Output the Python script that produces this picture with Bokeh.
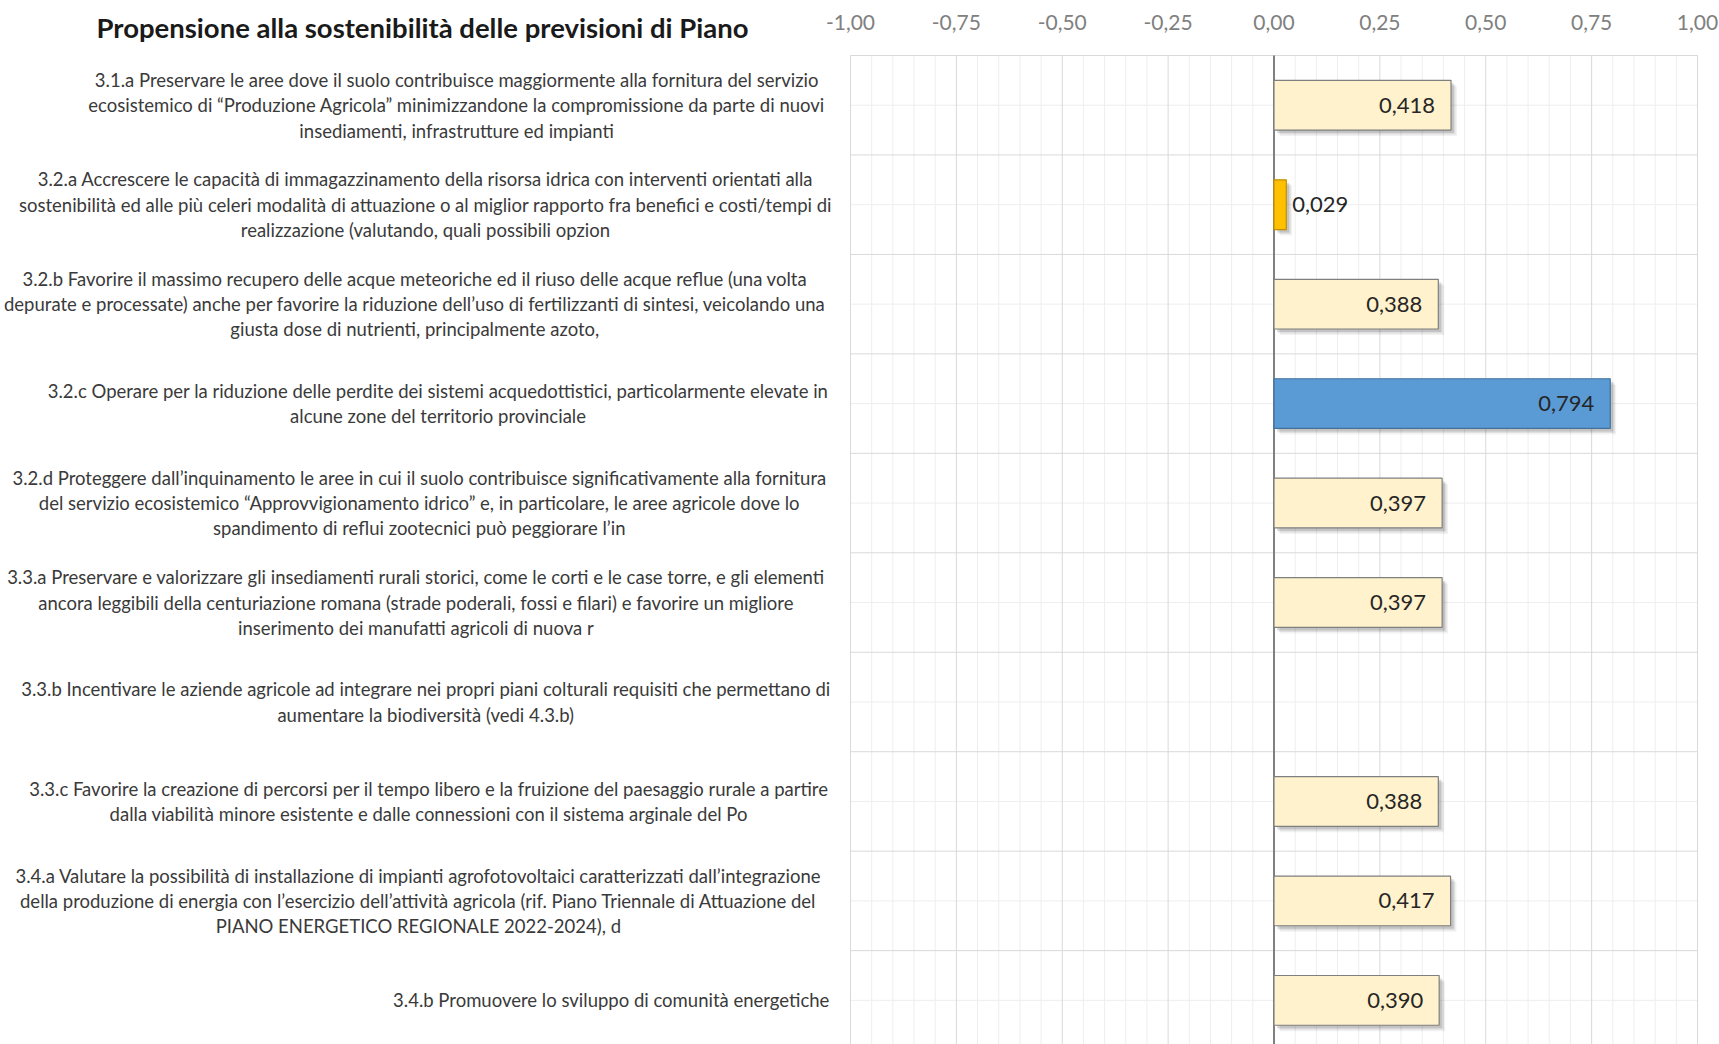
from bokeh.plotting import figure
from bokeh.models import ColumnDataSource, Range1d
from bokeh.embed import file_html
from bokeh.resources import INLINE
from bokeh.core.properties import value

# ---------------- data ----------------
chart_title = "Propensione alla sostenibilità delle previsioni di Piano"

categories = [
    "3.1.a Preservare le aree dove il suolo contribuisce maggiormente alla fornitura del servizio\n"
    "ecosistemico di “Produzione Agricola” minimizzandone la compromissione da parte di nuovi\n"
    "insediamenti, infrastrutture ed impianti",
    "3.2.a Accrescere le capacità di immagazzinamento della risorsa idrica con interventi orientati alla\n"
    "sostenibilità ed alle più celeri modalità di attuazione o al miglior rapporto fra benefici e costi/tempi di\n"
    "realizzazione (valutando, quali possibili opzion",
    "3.2.b Favorire il massimo recupero delle acque meteoriche ed il riuso delle acque reflue (una volta\n"
    "depurate e processate) anche per favorire la riduzione dell’uso di fertilizzanti di sintesi, veicolando una\n"
    "giusta dose di nutrienti, principalmente azoto,",
    "3.2.c Operare per la riduzione delle perdite dei sistemi acquedottistici, particolarmente elevate in\n"
    "alcune zone del territorio provinciale",
    "3.2.d Proteggere dall’inquinamento le aree in cui il suolo contribuisce significativamente alla fornitura\n"
    "del servizio ecosistemico “Approvvigionamento idrico” e, in particolare, le aree agricole dove lo\n"
    "spandimento di reflui zootecnici può peggiorare l’in",
    "3.3.a Preservare e valorizzare gli insediamenti rurali storici, come le corti e le case torre, e gli elementi\n"
    "ancora leggibili della centuriazione romana (strade poderali, fossi e filari) e favorire un migliore\n"
    "inserimento dei manufatti agricoli di nuova r",
    "3.3.b Incentivare le aziende agricole ad integrare nei propri piani colturali requisiti che permettano di\n"
    "aumentare la biodiversità (vedi 4.3.b)",
    "3.3.c Favorire la creazione di percorsi per il tempo libero e la fruizione del paesaggio rurale a partire\n"
    "dalla viabilità minore esistente e dalle connessioni con il sistema arginale del Po",
    "3.4.a Valutare la possibilità di installazione di impianti agrofotovoltaici caratterizzati dall’integrazione\n"
    "della produzione di energia con l’esercizio dell’attività agricola (rif. Piano Triennale di Attuazione del\n"
    "PIANO ENERGETICO REGIONALE 2022-2024), d",
    "3.4.b Promuovere lo sviluppo di comunità energetiche",
]

values = [0.418, 0.029, 0.388, 0.794, 0.397, 0.397, None, 0.388, 0.417, 0.390]

tick_values = [-1.0, -0.75, -0.5, -0.25, 0.0, 0.25, 0.5, 0.75, 1.0]
tick_labels = ["-1,00", "-0,75", "-0,50", "-0,25", "0,00", "0,25", "0,50", "0,75", "1,00"]

# ---------------- layout / style ----------------
FONT = "Lato"
W, H = 1719, 1044
PLOT_L, PLOT_R, PLOT_T = 850, 1697, 55      # pixel box of the value area
BAND_PX = 99.46                              # pixel height of one category band
px_x = (PLOT_R - PLOT_L) / 2.0
n = len(categories)

def X(px):   # pixel column -> data x
    return -1 + (px - PLOT_L) / px_x

def Y(py):   # pixel row -> data y (categories 0..n-1 from the top)
    return -0.5 + (py - PLOT_T) / BAND_PX

CREAM, CREAM_LINE = "#FFF2CC", "#7f7f7f"
BLUE, BLUE_LINE = "#5B9BD5", "#41719C"
ORANGE, ORANGE_LINE = "#FFC000", "#BF9000"
GRID_MAJOR, GRID_MINOR = "#d9d9d9", "#eeeeee"

p = figure(width=W, height=H, x_range=Range1d(X(0), X(W)), y_range=Range1d(Y(H), Y(0)),
           output_backend="svg", toolbar_location=None,
           x_axis_location=None, y_axis_location=None, min_border=0)
p.background_fill_color = "white"
p.border_fill_color = "white"
p.outline_line_color = None
p.xgrid.visible = False
p.ygrid.visible = False

y_top, y_bot = -0.5, Y(H)

# vertical grid: minor every 0.05, major at the tick values
minor_vals = [round(-1 + 0.05 * k, 2) for k in range(41)]
minor_vals = [m for m in minor_vals if m not in tick_values]
p.segment(x0=minor_vals, y0=y_top, x1=minor_vals, y1=y_bot, line_color=GRID_MINOR, line_width=1)
# horizontal grid: light lines at category centres, darker at band boundaries
centres = list(range(n))
p.segment(x0=-1, y0=centres, x1=1, y1=centres, line_color=GRID_MINOR, line_width=1)
bounds = [i - 0.5 for i in range(n + 1)]
p.segment(x0=-1, y0=bounds, x1=1, y1=bounds, line_color=GRID_MAJOR, line_width=1)
p.segment(x0=tick_values, y0=y_top, x1=tick_values, y1=y_bot, line_color=GRID_MAJOR, line_width=1)

# tick labels along the top
p.text(x=tick_values, y=Y(22), text=tick_labels, text_align="center", text_baseline="middle",
       text_font=value(FONT), text_font_size="21px", text_color="#808080")

# bars
present = [v for v in values if v is not None]
vmax, vmin = max(present), min(present)
ys, rights, fills, lines = [], [], [], []
for i, v in enumerate(values):
    if v is None:
        continue
    ys.append(i)
    rights.append(v)
    if v == vmax:
        fills.append(BLUE); lines.append(BLUE_LINE)
    elif v == vmin:
        fills.append(ORANGE); lines.append(ORANGE_LINE)
    else:
        fills.append(CREAM); lines.append(CREAM_LINE)

# soft shadow
for off, alpha in [(6, 0.05), (4.5, 0.08), (3, 0.12)]:
    dx, dy = off / px_x, off / BAND_PX
    p.hbar(y=[y + dy for y in ys], left=dx, right=[r + dx for r in rights], height=0.5,
           fill_color="black", fill_alpha=alpha, line_color=None)

# zero line
p.segment(x0=[0], y0=y_top, x1=[0], y1=y_bot, line_color="#808080", line_width=2)

src = ColumnDataSource(dict(y=ys, right=rights, fill=fills, line=lines))
p.hbar(y="y", left=0, right="right", height=0.5, source=src,
       fill_color="fill", line_color="line", line_width=1.2)

fmt = lambda r: f"{r:.3f}".replace(".", ",")
ins = [(y, r) for y, r in zip(ys, rights) if r >= 0.1]
outs = [(y, r) for y, r in zip(ys, rights) if r < 0.1]
p.text(x=[r for _, r in ins], y=[y for y, _ in ins], text=[fmt(r) for _, r in ins],
       x_offset=-16, text_align="right", text_baseline="middle",
       text_font=value(FONT), text_font_size="22px", text_color="#262626")
p.text(x=[r for _, r in outs], y=[y for y, _ in outs], text=[fmt(r) for _, r in outs],
       x_offset=6, text_align="left", text_baseline="middle",
       text_font=value(FONT), text_font_size="22px", text_color="#262626")

# category labels: block right-aligned near the value area, lines centred
LABEL_PX = 18.5
def em_width(ch):
    if ch in "il.,;:'’|!j": return 0.23
    if ch == " ": return 0.19
    if ch in "ftr()/“”-": return 0.32
    if ch in "mw": return 0.80
    if ch in "MW": return 0.90
    if ch.isdigit(): return 0.58
    if ch == "I": return 0.27
    if ch.isupper(): return 0.64
    return 0.51

def line_px(s):
    return sum(em_width(c) for c in s) * LABEL_PX * 1.065

RIGHT_EDGE_PX = 830
lab_x = []
for c in categories:
    w = max(line_px(l) for l in c.split("\n"))
    lab_x.append(X(RIGHT_EDGE_PX - w / 2))
p.text(x=lab_x, y=list(range(n)), text=categories, text_align="center", text_baseline="middle",
       text_font=value(FONT), text_font_size=f"{LABEL_PX}px", text_color="#3a3a3a",
       text_line_height=1.15)

# title
p.text(x=[X(422)], y=[Y(27)], text=[chart_title], text_align="center", text_baseline="middle",
       text_font=value(FONT), text_font_style="bold", text_font_size="27.5px", text_color="#1a1a1a")

open("out.html", "w").write(file_html(p, INLINE))
